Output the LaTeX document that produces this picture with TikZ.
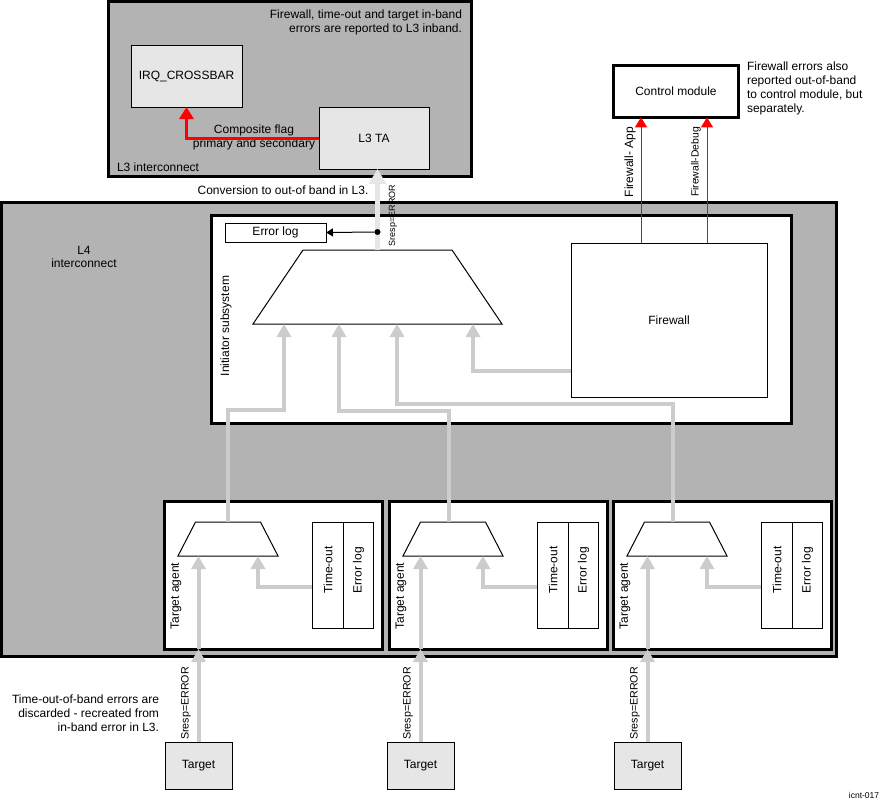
\documentclass[tikz,border=0pt]{standalone}
\usepackage{fontspec}
\setmainfont{Liberation Sans}
\usetikzlibrary{arrows.meta,calc}
\definecolor{zone}{RGB}{179,179,179}
\definecolor{lite}{RGB}{230,230,230}
\definecolor{wire}{RGB}{204,204,204}
\begin{document}
\begin{tikzpicture}[x=1pt,y=-1pt,
  every node/.style={font=\fontsize{12}{13.8}\selectfont, inner sep=0pt, outer sep=0pt},
  thickbox/.style={draw, line width=3pt, rectangle},
  thinbox/.style={draw, line width=1pt, rectangle, fill=white},
  wirearrow/.style={draw=wire, line width=4pt, -{Triangle[length=13pt,width=14pt]}},
  litearrow/.style={draw=lite, line width=5pt, -{Triangle[length=15pt,width=17pt]}},
  redthick/.style={draw=red, line width=3pt, -{Triangle[length=12pt,width=14pt]}},
  redthin/.style={draw=red, line width=1pt, -{Triangle[length=10pt,width=12pt]}},
  blackarrow/.style={draw=black, line width=1pt, -{Triangle[length=7pt,width=8pt]}},
  muxframe/.style={rectangle},
  muxline/.style={draw, line width=1pt, fill=white},
  vlabel/.style={rotate=90},
  smalltext/.style={font=\fontsize{10.7}{12}\selectfont}
]
\useasboundingbox (0,0) rectangle (880,800);

% L3 interconnect
\node[thickbox, fill=zone, minimum width=363, minimum height=175] (l3) at (290,89) {};
\node[thinbox, fill=lite, minimum width=111, minimum height=61] (irq) at (186.5,76.5) {IRQ\_CROSSBAR};
\node[thinbox, fill=lite, minimum width=110, minimum height=62] (l3ta) at (374,138) {L3 TA};
\node[anchor=west] (l3lbl) at (117,167) {L3 interconnect};
\node[anchor=east, align=right] (l3note) at (462,22) {Firewall, time-out and target in-band\\errors are reported to L3 inband.};
\node[align=center] (comp) at (254,137.5) {Composite flag\\primary and secondary};
\draw[redthick] (l3ta.west) -| (irq.south);

\node (conv) at (283,190) {Conversion to out-of band in L3.};

% Control module
\node[thickbox, fill=white, minimum width=125.5, minimum height=52.3] (cm) at (676,91.2) {Control module};
\node[anchor=north west, align=left] (cmnote) at (747,62) {Firewall errors also\\reported out-of-band\\to control module, but\\separately.};

% L4 interconnect
\node[thickbox, fill=zone, minimum width=835, minimum height=454.3] (l4) at (419,429.8) {};
\node[align=center] (l4lbl) at (84,257) {L4\\interconnect};

% Initiator subsystem
\node[thickbox, fill=white, minimum width=579.5, minimum height=207.5] (init) at (501.25,319.25) {};
\node[vlabel] (initlbl) at (226,326) {Initiator subsystem};
\node[thinbox, minimum width=101, minimum height=19] (errlog) at (275.5,232.5) {Error log};
\node[muxframe, minimum width=249, minimum height=74] (trap) at (377.5,287) {};
\draw[muxline] (trap.south west) -- (trap.south east) -- ($(trap.north east)+(-50,0)$) -- ($(trap.north west)+(50,0)$) -- cycle;
\node[thinbox, minimum width=196, minimum height=154] (fw) at (669,320) {Firewall};

% Target agents
\foreach \i/\dx/\tx in {1/0/0, 2/225/222, 3/449/449} {
  \node[thickbox, fill=white, minimum width=217.3, minimum height=148] (ta\i) at (273.4+\dx,575) {};
  \node[muxframe, minimum width=100, minimum height=34] (mux\i) at (228+\dx,539) {};
  \draw[muxline] (mux\i.south west) -- (mux\i.south east) -- ($(mux\i.north east)+(-17.5,0)$) -- ($(mux\i.north west)+(17.5,0)$) -- cycle;
  \node[thinbox, minimum width=31, minimum height=106] (to\i) at (327.5+\dx,575) {};
  \node[thinbox, minimum width=30, minimum height=106] (el\i) at (358+\dx,575) {};
  \node[vlabel] (tot\i) at (328+\dx,570) {Time-out};
  \node[vlabel] (elt\i) at (358.5+\dx,570) {Error log};
  \node[vlabel] (tat\i) at (176+\dx,596) {Target agent};
  \node[thinbox, fill=lite, minimum width=67, minimum height=47] (tg\i) at (198.5+\tx,765.5) {Target};
  \node[vlabel, smalltext] (sr\i) at (186+\tx,703.5) {Sresp=ERROR};
  \coordinate (tb\i) at (tg\i.north |- ta\i.south);
  \draw[wirearrow] (tg\i.north) -- (tb\i);
  \draw[wirearrow] (tb\i) -- (tg\i.north |- mux\i.south);
  \draw[wirearrow] ($(to\i.west)+(0,12)$) -| ($(mux\i.south)+(30,0)$);
}

% Paths into the initiator multiplexer
\coordinate (m1) at (mux1.north);
\coordinate (m2) at ($(mux2.north)+(-4,0)$);
\coordinate (m3) at ($(mux3.north)+(-4,0)$);
\draw[wirearrow] (m1) -- (m1 |- 0,410) -| ($(trap.south)+(-93.5,0)$);
\draw[wirearrow] (m2) -- (m2 |- 0,410.5) -| ($(trap.south)+(-38.5,0)$);
\draw[wirearrow] (m3) -- (m3 |- 0,404) -| ($(trap.south)+(19.5,0)$);
\draw[wirearrow] ($(fw.west)+(0,51)$) -| ($(trap.south)+(95.5,0)$);

% Initiator to L3 TA
\draw[litearrow] (trap.north) -- (trap.north |- l3ta.south);
\node[vlabel, font=\fontsize{9}{10}\selectfont] (srtop) at (393,215.5) {Sresp=ERROR};
\node[circle, fill=black, minimum size=6pt] (dot) at (377.5,232) {};
\draw[blackarrow] (dot) -- (errlog.east);

% Firewall to control module
\coordinate (fa) at ($(fw.north)+(-28,0)$);
\coordinate (fd) at ($(fw.north)+(38,0)$);
\draw[redthin] (fa) -- (fa |- cm.south);
\draw[redthin] (fd) -- (fd |- cm.south);
\node[vlabel] (falbl) at (630,162) {Firewall- App};
\node[vlabel, font=\fontsize{10.4}{12}\selectfont] (fdlbl) at (696,162) {Firewall-Debug};

% Notes
\node[anchor=east, align=right] (tonote) at (159,713) {Time-out-of-band errors are\\discarded - recreated from\\in-band error in L3.};
\node[font=\fontsize{8.5}{10}\selectfont] (code) at (864,795) {icnt-017};
\end{tikzpicture}
\end{document}
